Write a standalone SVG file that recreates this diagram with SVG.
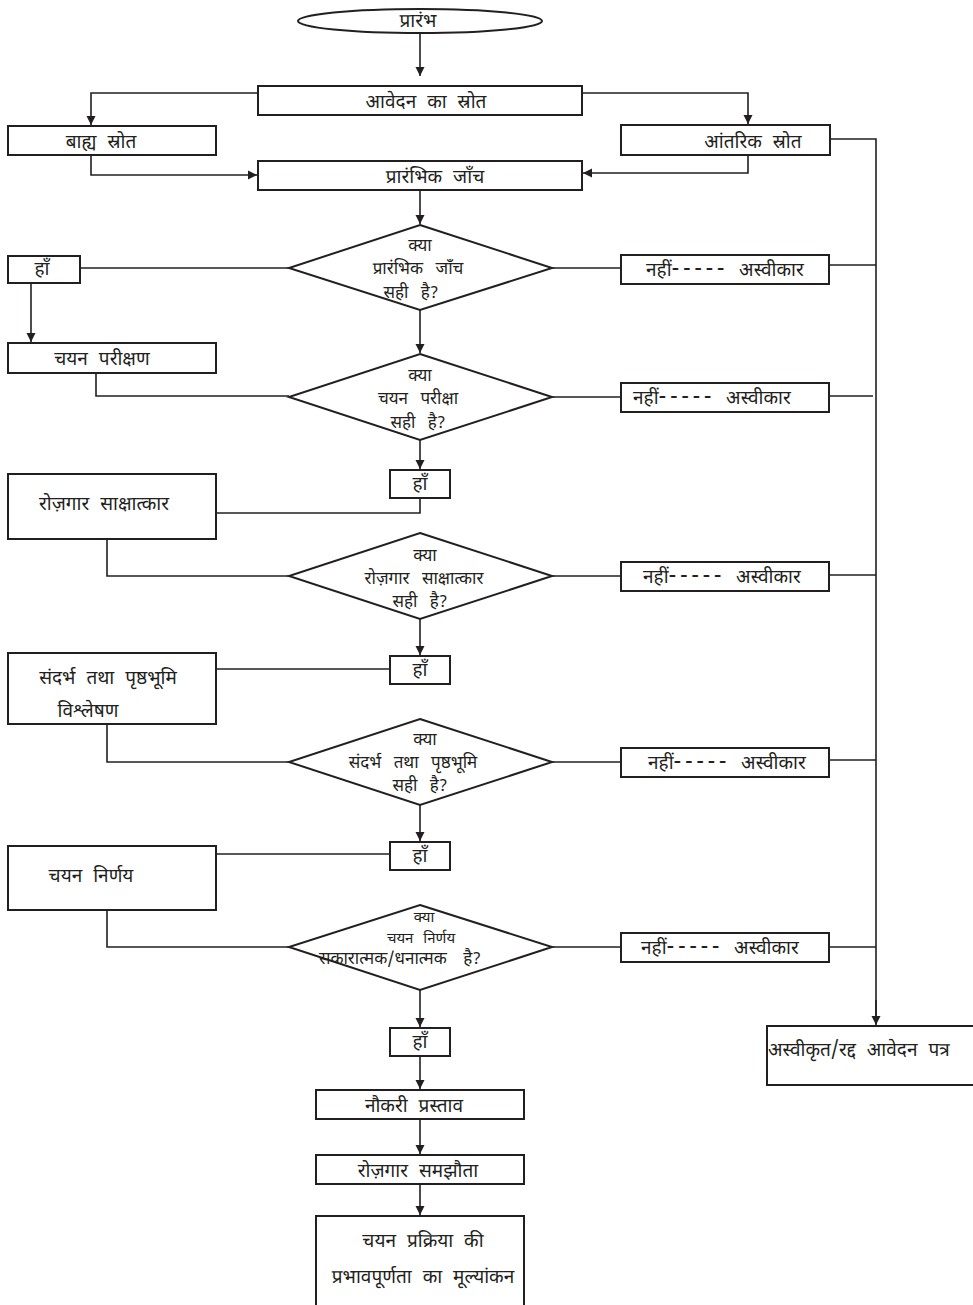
<svg xmlns="http://www.w3.org/2000/svg" width="973" height="1305" viewBox="0 0 973 1305">
<defs>
<marker id="ah" markerWidth="10" markerHeight="10" refX="9" refY="5" orient="auto" markerUnits="userSpaceOnUse">
<path d="M0,0.5 L9,5 L0,9.5 Z" fill="#231f20"/>
</marker>
<style>
.b{fill:#fff;stroke:#231f20;stroke-width:2}
.c{fill:none;stroke:#231f20;stroke-width:1.6}
.a{fill:none;stroke:#231f20;stroke-width:1.6;marker-end:url(#ah)}
text{font-family:"Noto Sans Devanagari","Noto Sans","Lohit Devanagari",sans-serif;fill:#231f20;font-size:19px;word-spacing:6px}
.m{text-anchor:middle}
.d{font-size:17px;text-anchor:middle;word-spacing:8px}
.s{font-size:15px;text-anchor:middle;word-spacing:6px}
.t{font-size:17px;text-anchor:middle;word-spacing:12px}
.ds{font-size:23px;letter-spacing:3.5px}
</style>
</defs>
<rect width="973" height="1305" fill="#fff"/>
<g id="connectors">
<path class="a" d="M420,33 V76"/>
<path class="a" d="M258,93 H91 V125"/>
<path class="a" d="M582,93 H748 V124"/>
<path class="c" d="M830,139 H876 V1024"/>
<path class="a" d="M876,1000 V1025"/>
<path class="a" d="M91,155 V175 H257"/>
<path class="a" d="M748,155 V173 H583"/>
<path class="a" d="M420,190 V224"/>
<path class="c" d="M289,268 H80"/>
<path class="a" d="M31,283 V342"/>
<path class="c" d="M552,268 H621"/>
<path class="c" d="M829,265 H876"/>
<path class="a" d="M420,310 V353"/>
<path class="c" d="M96,373 V396 H289"/>
<path class="c" d="M552,397 H621"/>
<path class="c" d="M829,396 H873"/>
<path class="a" d="M420,440 V469"/>
<path class="c" d="M420,498 V513 H216"/>
<path class="c" d="M107,539 V576 H289"/>
<path class="c" d="M552,576 H621"/>
<path class="c" d="M829,575 H876"/>
<path class="a" d="M420,619 V655"/>
<path class="c" d="M390,669 H216"/>
<path class="c" d="M107,724 V762 H289"/>
<path class="c" d="M552,762 H621"/>
<path class="c" d="M829,760 H876"/>
<path class="a" d="M420,805 V841"/>
<path class="c" d="M390,854 H216"/>
<path class="c" d="M107,910 V947 H289"/>
<path class="c" d="M552,947 H621"/>
<path class="c" d="M829,947 H876"/>
<path class="a" d="M420,990 V1027"/>
<path class="a" d="M420,1056 V1089"/>
<path class="a" d="M420,1119 V1154"/>
<path class="a" d="M420,1184 V1215"/>
</g>
<g id="start"><ellipse class="b" cx="420" cy="21" rx="122" ry="12"/><text class="m" x="418" y="27">प्रारंभ</text></g>
<g id="source"><rect class="b" x="258" y="86" width="324" height="29"/><text class="m" x="426" y="108">आवेदन का स्रोत</text></g>
<g id="external"><rect class="b" x="8" y="126" width="208" height="29"/><text class="m" x="101" y="148">बाह्य स्रोत</text></g>
<g id="internal"><rect class="b" x="621" y="125" width="209" height="30"/><text class="m" x="753" y="148">आंतरिक स्रोत</text></g>
<g id="prelim"><rect class="b" x="258" y="161" width="324" height="29"/><text class="m" x="435" y="183">प्रारंभिक जाँच</text></g>
<g id="d1"><polygon class="b" points="420,225 552,268 420,310 289,268"/><text class="d" x="420" y="251">क्या</text><text class="d" x="418" y="274">प्रारंभिक जाँच</text><text class="d" x="411" y="298">सही है?</text></g>
<g id="yes1"><rect class="b" x="8" y="256" width="72" height="27"/><text class="m" x="42" y="275">हाँ</text></g>
<g id="no1"><rect class="b" x="621" y="255" width="208" height="29"/><text x="646" y="276">नहीं<tspan class="ds">-----</tspan> अस्वीकार</text></g>
<g id="test"><rect class="b" x="8" y="343" width="208" height="30"/><text class="m" x="102" y="365">चयन परीक्षण</text></g>
<g id="d2"><polygon class="b" points="420,354 552,397 420,440 289,397"/><text class="d" x="420" y="381">क्या</text><text class="d" x="418" y="404">चयन परीक्षा</text><text class="d" x="418" y="428">सही है?</text></g>
<g id="no2"><rect class="b" x="621" y="383" width="208" height="29"/><text x="633" y="404">नहीं<tspan class="ds">-----</tspan> अस्वीकार</text></g>
<g id="yes2"><rect class="b" x="390" y="470" width="60" height="28"/><text class="m" x="420" y="490">हाँ</text></g>
<g id="interview"><rect class="b" x="8" y="474" width="208" height="65"/><text class="m" x="104" y="510">रोज़गार साक्षात्कार</text></g>
<g id="d3"><polygon class="b" points="420,533 552,576 420,619 289,576"/><text class="d" x="425" y="561">क्या</text><text class="d" x="424" y="584">रोज़गार साक्षात्कार</text><text class="d" x="420" y="607">सही है?</text></g>
<g id="no3"><rect class="b" x="621" y="562" width="208" height="29"/><text x="643" y="583">नहीं<tspan class="ds">-----</tspan> अस्वीकार</text></g>
<g id="yes3"><rect class="b" x="390" y="656" width="60" height="28"/><text class="m" x="420" y="676">हाँ</text></g>
<g id="reference"><rect class="b" x="8" y="653" width="208" height="71"/><text class="m" x="108" y="684">संदर्भ तथा पृष्ठभूमि</text><text class="m" x="88" y="717">विश्लेषण</text></g>
<g id="d4"><polygon class="b" points="420,719 552,762 420,805 289,762"/><text class="d" x="425" y="745">क्या</text><text class="d" x="413" y="768">संदर्भ तथा पृष्ठभूमि</text><text class="d" x="420" y="791">सही है?</text></g>
<g id="no4"><rect class="b" x="621" y="748" width="208" height="29"/><text x="648" y="769">नहीं<tspan class="ds">-----</tspan> अस्वीकार</text></g>
<g id="yes4"><rect class="b" x="390" y="842" width="60" height="28"/><text class="m" x="420" y="862">हाँ</text></g>
<g id="decision"><rect class="b" x="8" y="846" width="208" height="64"/><text class="m" x="91" y="882">चयन निर्णय</text></g>
<g id="d5"><polygon class="b" points="420,905 552,947 420,990 289,947"/><text class="s" x="424" y="922">क्या</text><text class="s" x="421" y="943">चयन निर्णय</text><text class="t" x="400" y="964">सकारात्मक/धनात्मक है?</text></g>
<g id="no5"><rect class="b" x="621" y="933" width="208" height="29"/><text x="641" y="954">नहीं<tspan class="ds">-----</tspan> अस्वीकार</text></g>
<g id="yes5"><rect class="b" x="390" y="1028" width="60" height="28"/><text class="m" x="420" y="1048">हाँ</text></g>
<g id="offer"><rect class="b" x="316" y="1090" width="208" height="29"/><text class="m" x="414" y="1112">नौकरी प्रस्ताव</text></g>
<g id="agreement"><rect class="b" x="316" y="1155" width="208" height="29"/><text class="m" x="418" y="1177">रोज़गार समझौता</text></g>
<g id="evaluation"><rect class="b" x="316" y="1216" width="208" height="100"/><text class="m" x="423" y="1247">चयन प्रक्रिया की</text><text class="m" x="423" y="1283">प्रभावपूर्णता का मूल्यांकन</text></g>
<g id="rejected"><rect class="b" x="767" y="1026" width="220" height="59"/><text x="768" y="1056">अस्वीकृत/रद्द आवेदन पत्र</text></g>
</svg>
